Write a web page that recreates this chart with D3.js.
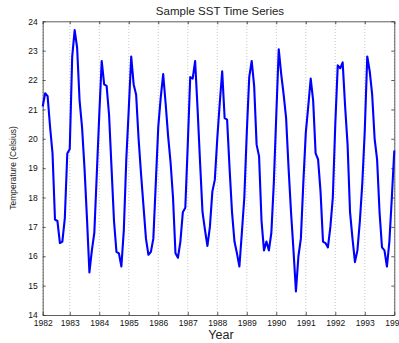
<!DOCTYPE html>
<html>
<head>
<meta charset="utf-8">
<script src="https://cdn.jsdelivr.net/npm/d3@7"></script>
<style>
    body { margin: 0; background: #fff; }
    svg { display: block; font-family: "Liberation Sans", Arial, sans-serif; }
</style>
</head>
<body>
<svg id="chart" width="399" height="343"></svg>
<script>
// monthly SST, first value is Feb 1982, last is Jan 1994
var startYear = 1982, startMonth = 2;
var sst = [
    21.1, 21.55, 21.45, 20.4, 19.5, 17.25, 17.2, 16.45, 16.5, 17.3, 19.5, 19.65,
    22.8, 23.7, 23.1, 21.3, 20.4, 19.0, 17.3, 15.45, 16.2, 16.8, 18.8, 20.8,
    22.65, 21.85, 21.8, 20.8, 19.0, 17.2, 16.15, 16.1, 15.65, 16.9, 19.3, 21.0,
    22.8, 21.85, 21.5, 20.0, 18.8, 17.7, 16.6, 16.05, 16.15, 16.6, 18.5, 20.4,
    21.4, 22.2, 21.2, 20.1, 19.2, 18.0, 16.1, 15.95, 16.5, 17.5, 17.65, 19.8,
    22.1, 22.05, 22.65, 21.0, 19.2, 17.5, 16.9, 16.35, 17.0, 18.2, 18.6, 20.0,
    21.2, 22.3, 20.7, 20.65, 19.0, 17.5, 16.5, 16.1, 15.65, 16.8, 18.0, 20.2,
    22.1, 22.65, 21.8, 19.8, 19.4, 17.2, 16.2, 16.5, 16.2, 16.8, 18.5, 20.8,
    23.05, 22.2, 21.5, 20.7, 19.0, 17.5, 16.2, 14.8, 16.0, 16.6, 18.5, 20.2,
    21.1, 22.05, 21.3, 19.5, 19.3, 18.2, 16.5, 16.45, 16.3, 17.0, 18.0, 20.5,
    22.5, 22.4, 22.6, 21.1, 19.8, 17.5, 16.6, 15.8, 16.2, 17.2, 18.5, 20.3,
    22.8, 22.3, 21.5, 20.0, 19.3, 17.5, 16.3, 16.2, 15.65, 16.5, 18.0, 19.6
];
var years = [1983, 1984, 1985, 1986, 1987, 1988, 1989, 1990, 1991, 1992, 1993, 1994];
var yTicks = [14, 15, 16, 17, 18, 19, 20, 21, 22, 23, 24];

var data = sst.map(function (v, i) {
    return {t: startYear + (startMonth - 1 + i) / 12, v: v};
});

var margin = {left: 42.7, right: 4.7, top: 21.3, bottom: 28};
var width = 399, height = 343;
var svg = d3.select('#chart');

var x = d3.scaleLinear()
    .domain([data[0].t, data[data.length - 1].t])
    .range([margin.left, width - margin.right]);
var y = d3.scaleLinear()
    .domain([14, 24])
    .range([height - margin.bottom, margin.top]);

var xTickVals = [data[0].t].concat(years);

// vertical dotted grid
svg.append('g').selectAll('line').data(xTickVals).enter().append('line')
    .attr('x1', function (d) { return x(d); }).attr('x2', function (d) { return x(d); })
    .attr('y1', y(14)).attr('y2', y(24))
    .attr('stroke', '#b8b8b8').attr('stroke-width', 0.8).attr('stroke-dasharray', '1,2');

// axes (ticks inward, MATLAB style)
var xAxis = svg.append('g').attr('transform', 'translate(0,' + y(14) + ')')
    .call(d3.axisBottom(x).tickValues(xTickVals).tickSizeInner(-3).tickSizeOuter(0)
        .tickPadding(5).tickFormat(function (d) { return Math.floor(d); }));
var xTop = svg.append('g').attr('transform', 'translate(0,' + y(24) + ')')
    .call(d3.axisTop(x).tickValues(xTickVals).tickSizeInner(-3).tickSizeOuter(0).tickFormat(''));
var yAxis = svg.append('g').attr('transform', 'translate(' + x.range()[0] + ',0)')
    .call(d3.axisLeft(y).tickValues(yTicks).tickSizeInner(-3).tickSizeOuter(0).tickPadding(5));
var yRight = svg.append('g').attr('transform', 'translate(' + x.range()[1] + ',0)')
    .call(d3.axisRight(y).tickValues(yTicks).tickSizeInner(-3).tickSizeOuter(0).tickFormat(''));

[xAxis, xTop, yAxis, yRight].forEach(function (g) {
    g.selectAll('path').attr('stroke', '#333').attr('stroke-width', 0.8);
    g.selectAll('line').attr('stroke', '#333').attr('stroke-width', 0.8);
    g.selectAll('text').attr('fill', '#111').style('font-size', '8.5px');
});

// the series
var line = d3.line()
    .x(function (d) { return x(d.t); })
    .y(function (d) { return y(d.v); });
svg.append('path').datum(data)
    .attr('d', line)
    .attr('fill', 'none')
    .attr('stroke', '#0000ff')
    .attr('stroke-width', 2.1)
    .attr('stroke-linejoin', 'round');

// labels
svg.append('text').attr('x', 220).attr('y', 15)
    .attr('text-anchor', 'middle').style('font-size', '11.5px').attr('fill', '#222')
    .text('Sample SST Time Series');
svg.append('text').attr('x', 221).attr('y', 339)
    .attr('text-anchor', 'middle').style('font-size', '12.5px').attr('fill', '#222')
    .text('Year');
svg.append('text').attr('transform', 'translate(16,168) rotate(-90)')
    .attr('text-anchor', 'middle').style('font-size', '8.5px').attr('fill', '#222')
    .text('Temperature (Celsius)');
</script>
</body>
</html>
